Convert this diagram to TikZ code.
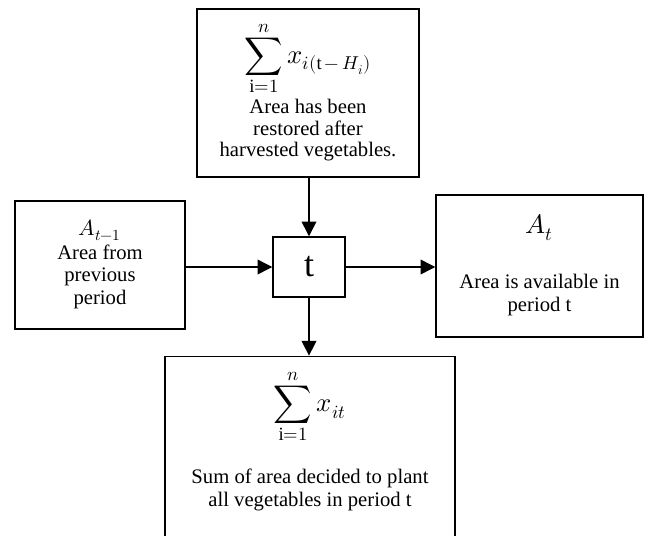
\documentclass[tikz,border=0pt]{standalone}
\usepackage{fontspec}
\usepackage{unicode-math}
\setmainfont{Liberation Serif}
\setmathfont{Latin Modern Math}
\usetikzlibrary{arrows.meta}
\newcommand{\mathbig}[2][20]{{\fontsize{#1}{#1}\selectfont$\displaystyle #2$}}

\begin{document}
\begin{tikzpicture}[x=0.75pt,y=-0.75pt,font=\fontsize{15.5}{17}\selectfont,
  blk/.style={draw,line width=1.1pt,inner sep=0pt},
  txt/.style={align=center,inner sep=0pt},
  flow/.style={draw,line width=1.1pt,-{Triangle[length=11pt,width=11pt]}}]
\useasboundingbox (0,0) rectangle (645,535);

% boxes
\node[blk,minimum width=166.5pt,minimum height=126pt] (topb) at (308,93) {};
\node[blk,minimum width=127.5pt,minimum height=96pt] (lbox) at (100,265) {};
\node[blk,minimum width=54pt,minimum height=45pt,font=\fontsize{27}{30}\selectfont] (tbox) at (309,267) {t};
\node[blk,minimum width=155.25pt,minimum height=106.5pt] (rbox) at (539.5,266) {};
\node[blk,minimum width=217.5pt,minimum height=142pt] (botb) at (310,451) {};

% texts
\node[txt,font=\fontsize{15.5}{16.2}\selectfont] (toptxt) at (308,91) {\mathbig{\sum_{\mathrm{i}=1}^{n} x_{i(\mathrm{t}\,-\,H_i)}}\\[2pt]
  Area has been\\restored after\\harvested vegetables.};
\node[txt] (ltxt) at (100,264) {\mathbig[16.5]{A_{t-1}}\\[1pt]Area from\\previous\\period};
\node[txt] (rtxt) at (539.5,265) {\mathbig{A_t}\\[24pt]Area is available in\\period t};
\node[txt] (bottxt) at (310,440) {\mathbig{\sum_{\mathrm{i}=1}^{n} x_{it}}\\[18pt]
  Sum of area decided to plant\\all vegetables in period t};

% flows
\draw[flow] (tbox.north |- topb.south) -- (tbox.north);
\draw[flow] (tbox.west -| lbox.east) -- (tbox.west);
\draw[flow] (tbox.east) -- (tbox.east -| rbox.west);
\draw[flow] (tbox.south) -- (tbox.south |- botb.north);
\end{tikzpicture}
\end{document}
